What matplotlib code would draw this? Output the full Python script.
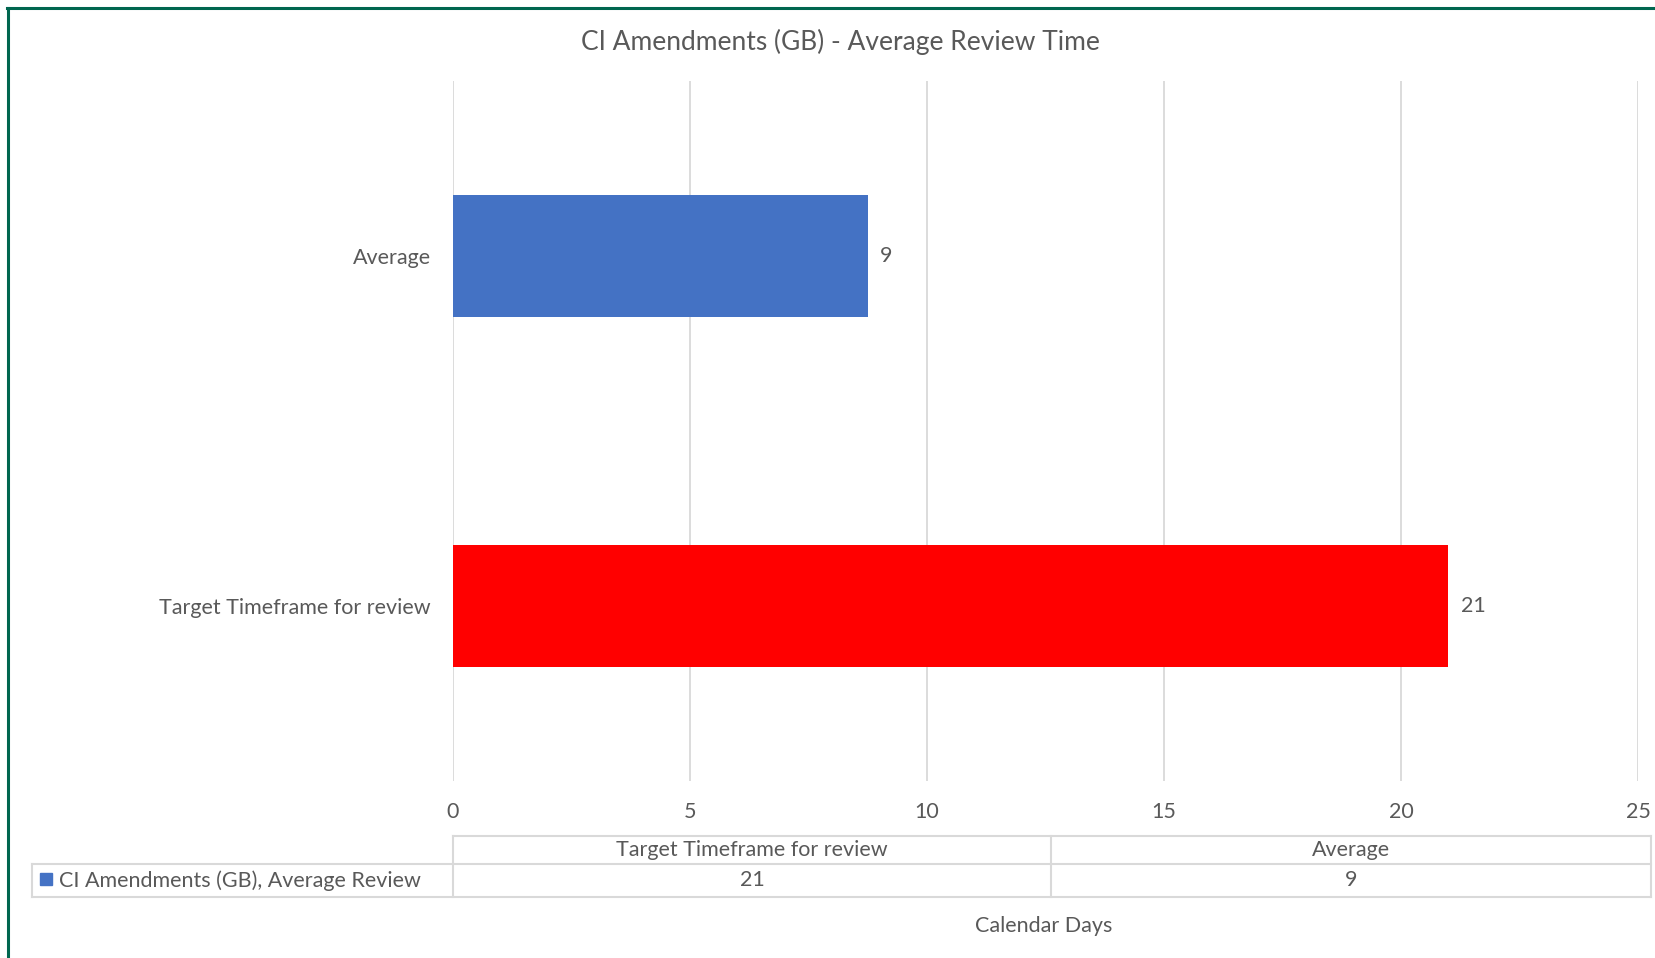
"""CI Amendments (GB) - Average Review Time（横棒グラフ＋データテーブル）"""
import matplotlib
import matplotlib.pyplot as plt
from matplotlib.lines import Line2D
from matplotlib.patches import Rectangle

matplotlib.use("Agg")

DPI = 100
WIDTH_PX, HEIGHT_PX = 1655, 958
FIGSIZE = (WIDTH_PX / DPI, HEIGHT_PX / DPI)

categories = ["Target Timeframe for review", "Average"]
values = [21, 8.75]
bar_colors = ["#FF0000", "#4472C4"]
series_name = "CI Amendments (GB), Average Review"
x_ticks = [0, 5, 10, 15, 20, 25]

TEXT = "#595959"
GRID = "#D9D9D9"
FRAME = "#00664F"
FS = 15.5

plt.rcParams["font.family"] = ["Lato", "DejaVu Sans"]


def fx(px):
    return px / WIDTH_PX


def fy(px):
    return 1 - px / HEIGHT_PX


fig = plt.figure(figsize=FIGSIZE, dpi=DPI)
ax = fig.add_axes([fx(453), fy(781), fx(1638) - fx(453), fy(81) - fy(781)])

pos = list(range(len(categories)))
bars = ax.barh(pos, values, height=0.35, color=bar_colors)

# 値ラベル（整数に丸める）
for bar, val in zip(bars, values):
    ax.annotate(f"{val:.0f}", (bar.get_width(), bar.get_y() + bar.get_height() / 2),
                textcoords="offset points", xytext=(9, 0), va="center",
                fontsize=FS, color=TEXT)

ax.set_xlim(0, 25)
ax.set_ylim(-0.5, len(categories) - 0.5)
ax.set_xticks(x_ticks)
ax.set_yticks(pos)
ax.set_yticklabels(categories)
ax.tick_params(axis="both", length=0, labelsize=FS, labelcolor=TEXT)
ax.tick_params(axis="x", pad=15)
ax.tick_params(axis="y", pad=16)
ax.grid(axis="x", color=GRID, linewidth=1.3)
ax.set_axisbelow(True)
for s in ax.spines.values():
    s.set_visible(False)

fig.text(fx(840), fy(42), "CI Amendments (GB) - Average Review Time",
         ha="center", va="center", fontsize=19, color=TEXT)

# データテーブル
col_edges = [453, 1051, 1651]
row_top, row_mid, row_bot = 836, 864, 897
lab_left = 32
lk = dict(color=GRID, linewidth=1.5, transform=fig.transFigure)
fig.add_artist(Line2D([fx(col_edges[0]), fx(col_edges[-1])], [fy(row_top)] * 2, **lk))
fig.add_artist(Line2D([fx(lab_left), fx(col_edges[-1])], [fy(row_mid)] * 2, **lk))
fig.add_artist(Line2D([fx(lab_left), fx(col_edges[-1])], [fy(row_bot)] * 2, **lk))
fig.add_artist(Line2D([fx(lab_left)] * 2, [fy(row_mid), fy(row_bot)], **lk))
for xe in col_edges:
    fig.add_artist(Line2D([fx(xe)] * 2, [fy(row_top), fy(row_bot)], **lk))
for i, (cat, val) in enumerate(zip(categories, values)):
    cx = (col_edges[i] + col_edges[i + 1]) / 2
    fig.text(fx(cx), fy((row_top + row_mid) / 2), cat, ha="center", va="center",
             fontsize=FS, color=TEXT)
    fig.text(fx(cx), fy((row_mid + row_bot) / 2), f"{val:.0f}", ha="center", va="center",
             fontsize=FS, color=TEXT)
fig.add_artist(Rectangle((fx(40), fy(885)), fx(12), 12 / HEIGHT_PX,
                         color="#4472C4", transform=fig.transFigure))
fig.text(fx(59), fy((row_mid + row_bot) / 2), series_name, ha="left", va="center",
         fontsize=FS, color=TEXT)

fig.text(fx(1044), fy(926), "Calendar Days", ha="center", va="center",
         fontsize=FS, color=TEXT)

# 外枠（上と左のみ）
bk = dict(color=FRAME, linewidth=2.2, transform=fig.transFigure)
fig.add_artist(Line2D([fx(7), 1], [fy(8)] * 2, **bk))
fig.add_artist(Line2D([fx(8)] * 2, [fy(8), 0], **bk))

fig.savefig("out.png", dpi=DPI, facecolor="white")
plt.close(fig)
